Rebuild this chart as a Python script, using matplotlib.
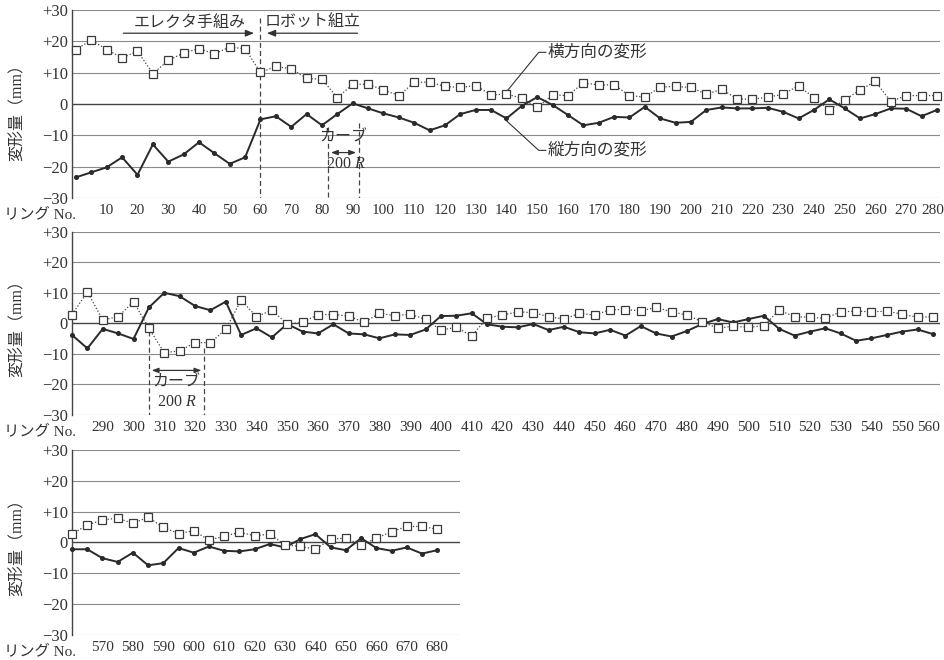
import numpy as np
import matplotlib
matplotlib.use("Agg")
import matplotlib.pyplot as plt
from matplotlib.transforms import ScaledTranslation

plt.rcParams['font.family'] = ['Liberation Serif', 'Noto Sans CJK JP']
plt.rcParams['mathtext.fontset'] = 'custom'
plt.rcParams['mathtext.rm'] = 'Liberation Serif'
plt.rcParams['mathtext.it'] = 'Liberation Serif:italic'

# ---- ring numbers (one measurement every 5 rings) ----
rings_1 = np.arange(0, 281, 5)
rings_2 = np.arange(280, 561, 5)
rings_3 = np.arange(560, 681, 5)

# ---- lateral deformation (横方向の変形), mm ----
lateral_1 = [17.4, 20.4, 17.4, 14.7, 16.9, 9.7, 13.9, 16.3, 17.7, 16.0, 18.2, 17.6, 10.1,
             12.0, 11.2, 8.2, 7.9, 2.0, 6.3, 6.3, 4.5, 2.7, 6.9, 7.0, 5.6, 5.3, 5.9,
             2.9, 3.2, 1.8, -1.1, 2.9, 2.7, 6.7, 6.1, 6.1, 2.7, 2.2, 5.4, 5.6, 5.3,
             3.1, 4.7, 1.6, 1.5, 2.2, 3.1, 5.9, 2.0, -1.9, 1.3, 4.5, 7.2, 0.8, 2.7,
             2.7, 2.7]
lateral_2 = [2.9, 10.3, 1.1, 2.2, 7.1, -1.6, -9.6, -9.0, -6.3, -6.3, -2.0, 7.6, 2.2,
             4.3, -0.2, 0.3, 2.9, 2.9, 2.4, 0.3, 3.3, 2.5, 3.0, 1.3, -2.2, -1.3, -4.1,
             1.8, 2.7, 3.8, 3.5, 2.2, 1.4, 3.3, 2.7, 4.5, 4.5, 4.1, 5.2, 3.8, 2.7,
             0.5, -1.6, -0.9, -1.3, -0.8, 4.3, 2.2, 2.0, 1.6, 3.8, 4.0, 3.8, 4.0,
             3.0, 2.0, 2.2]
lateral_3 = [2.7, 5.7, 7.3, 7.9, 6.2, 8.2, 4.9, 2.9, 3.8, 0.8, 2.0, 3.3, 2.2, 2.7,
             -0.8, -1.3, -2.2, 1.1, 1.4, -0.9, 1.4, 3.5, 5.2, 5.2, 4.3]

# ---- longitudinal deformation (縦方向の変形), mm ----
longit_1 = [-23.4, -21.8, -20.2, -17.0, -22.6, -12.9, -18.4, -16.1, -12.2, -15.7, -19.1,
            -17.0, -4.9, -3.9, -7.3, -3.2, -6.8, -3.2, 0.2, -1.4, -3.0, -4.3, -6.0,
            -8.4, -6.8, -3.2, -1.9, -1.9, -4.6, -0.6, 2.2, -0.3, -3.5, -6.8, -6.0,
            -4.1, -4.3, -0.9, -4.6, -6.0, -5.7, -1.9, -1.1, -1.4, -1.4, -1.2, -2.5,
            -4.6, -1.9, 1.5, -1.4, -4.6, -3.2, -1.4, -1.5, -3.9, -1.9]
longit_2 = [-3.8, -8.2, -1.8, -3.3, -5.1, 5.2, 10.0, 8.9, 5.7, 4.3, 7.1, -3.8, -1.6,
            -4.6, -0.2, -2.7, -3.3, -0.3, -3.3, -3.6, -4.9, -3.6, -3.8, -2.0, 2.4,
            2.5, 3.3, -0.3, -1.1, -1.3, -0.2, -2.2, -1.1, -2.9, -3.3, -2.1, -4.0,
            -0.9, -3.3, -4.3, -2.5, -0.2, 1.4, 0.3, 1.4, 2.5, -1.8, -4.0, -2.7, -1.6,
            -3.3, -5.7, -4.9, -3.8, -2.7, -2.0, -3.5]
longit_3 = [-2.2, -2.2, -5.1, -6.3, -3.3, -7.4, -6.7, -1.8, -3.3, -1.3, -2.7, -2.9,
            -2.2, -0.5, -1.6, 1.1, 2.7, -1.6, -2.5, 1.4, -1.8, -2.7, -1.6, -3.6, -2.5]

# ---- axis ticks ----
y_ticks = [30, 20, 10, 0, -10, -20, -30]
y_tick_labels = ['+30', '+20', '+10', '0', '−10', '−20', '−30']
x_ticks_1 = np.arange(10, 281, 10)
x_ticks_2 = np.arange(290, 561, 10)
x_ticks_3 = np.arange(570, 681, 10)

# ---- construction notes ----
boundary_ring = 60            # hand erection -> robot assembly
curve_1 = (82, 92)            # 200R curve section, first panel
curve_2 = (305, 323)          # 200R curve section, second panel

INK = '#2a2a2a'
TXT = '#333333'
GRID = '#8a8a8a'

fig = plt.figure(figsize=(9.45, 6.6), dpi=100)
ax1 = fig.add_axes([0.0762, 0.700, 0.9185, 0.2848])
ax2 = fig.add_axes([0.0762, 0.3712, 0.9185, 0.2777])
ax3 = fig.add_axes([0.0762, 0.0379, 0.4106, 0.2803])

panels = [
    (ax1, rings_1, lateral_1, longit_1, x_ticks_1, (-1.3, 281.0)),
    (ax2, rings_2, lateral_2, longit_2, x_ticks_2, (280.0, 562.3)),
    (ax3, rings_3, lateral_3, longit_3, x_ticks_3, (560.0, 687.5)),
]

for ax, r, lat, lon, xt, xl in panels:
    ax.set_xlim(*xl)
    ax.set_ylim(-30, 30)
    for v in y_ticks:
        ax.axhline(v, color='#444444' if v == 0 else GRID,
                   lw=1.0 if v == 0 else 0.8, zorder=1)
    for s in ['top', 'right', 'bottom']:
        ax.spines[s].set_visible(False)
    ax.spines['left'].set_color('#444444')
    ax.spines['left'].set_linewidth(1.0)
    ax.set_yticks(y_ticks)
    ax.set_yticklabels(y_tick_labels)
    ax.set_xticks(xt)
    ax.set_xticklabels([str(v) for v in xt])
    ax.tick_params(axis='both', length=0, colors=TXT)
    ax.tick_params(axis='x', pad=4, labelsize=11)
    ax.tick_params(axis='y', pad=3, labelsize=12)
    ax.patch.set_alpha(0)

    ax.plot(r, lon, '-', color=INK, lw=1.4, marker='o', ms=2.6,
            mfc=INK, mec=INK, zorder=3, clip_on=False)
    ax.plot(r, lat, color='#444444', lw=0.9, ls=(0, (1, 1.6)), marker='s',
            ms=5.5, mfc='white', mec='#3a3a3a', mew=0.9, zorder=4, clip_on=False)

# keep the last ring number inside the page on the full-width rows
for ax in (ax1, ax2):
    last = ax.get_xticklabels()[-1]
    last.set_horizontalalignment('right')
    last.set_transform(last.get_transform()
                       + ScaledTranslation(7 / 100, 0, fig.dpi_scale_trans))

# axis titles
for yc in [0.836, 0.508, 0.177]:
    fig.text(0.019, yc, '変形量（mm）', rotation=90, ha='center', va='center',
             fontsize=11.5, color=TXT)
for ax in (ax1, ax2, ax3):
    y_top = ax.get_position().y0 - 9.5 / 660
    fig.text(0.004, y_top, 'リング No.', ha='left', va='top',
             fontsize=11, color=TXT)

dash = (0, (4, 2.5))
txt_kw = dict(color=TXT, fontsize=11.5)

# hand erection / robot assembly split
ax1.plot([boundary_ring, boundary_ring], [27.5, -30], color='#444444', lw=0.9,
         ls=dash, zorder=2)
ax1.annotate('', xy=(boundary_ring - 1.2, 22.6), xytext=(14.5, 22.6),
             arrowprops=dict(arrowstyle='-|>,head_length=0.5,head_width=0.2',
                             color=TXT, lw=0.9))
ax1.text(37, 23.3, 'エレクタ手組み', ha='center', va='bottom', **txt_kw)
ax1.annotate('', xy=(boundary_ring + 1.2, 22.6), xytext=(92.5, 22.6),
             arrowprops=dict(arrowstyle='-|>,head_length=0.5,head_width=0.2',
                             color=TXT, lw=0.9))
ax1.text(77, 23.3, 'ロボット組立', ha='center', va='bottom', **txt_kw)

# curve section, first panel
for x0, y0 in zip(curve_1, (-7.3, -6.2)):
    ax1.plot([x0, x0], [y0, -30], color='#444444', lw=0.9, ls=dash, zorder=2)
ax1.annotate('', xy=(curve_1[0], -15.5), xytext=(curve_1[1], -15.5),
             arrowprops=dict(arrowstyle='<|-|>,head_length=0.4,head_width=0.15',
                             color=TXT, lw=0.9))
ax1.text(sum(curve_1) / 2, -10.6, 'カーブ', ha='center', va='center', **txt_kw)
ax1.text(sum(curve_1) / 2 + 0.8, -19.2, '200 $R$', ha='center', va='center', **txt_kw)

# series leaders
ax1.plot([140, 150.5, 152.8], [3.9, 16.5, 16.5], color=TXT, lw=0.8, zorder=2)
ax1.text(153.3, 16.5, '横方向の変形', ha='left', va='center', color=TXT, fontsize=12)
ax1.plot([139.4, 150.5, 152.8], [-4.8, -14.8, -14.8], color=TXT, lw=0.8, zorder=2)
ax1.text(153.3, -14.8, '縦方向の変形', ha='left', va='center', color=TXT, fontsize=12)

# curve section, second panel
for x0, y0 in zip(curve_2, (-2.5, -8.0)):
    ax2.plot([x0, x0], [y0, -30], color='#444444', lw=0.9, ls=dash, zorder=2)
ax2.annotate('', xy=(curve_2[0], -15.4), xytext=(curve_2[1], -15.4),
             arrowprops=dict(arrowstyle='<|-|>,head_length=0.4,head_width=0.15',
                             color=TXT, lw=0.9))
ax2.text(sum(curve_2) / 2, -19.5, 'カーブ', ha='center', va='center', **txt_kw)
ax2.text(sum(curve_2) / 2, -25.7, '200 $R$', ha='center', va='center', **txt_kw)

fig.savefig('out.png', dpi=100, facecolor='white')
